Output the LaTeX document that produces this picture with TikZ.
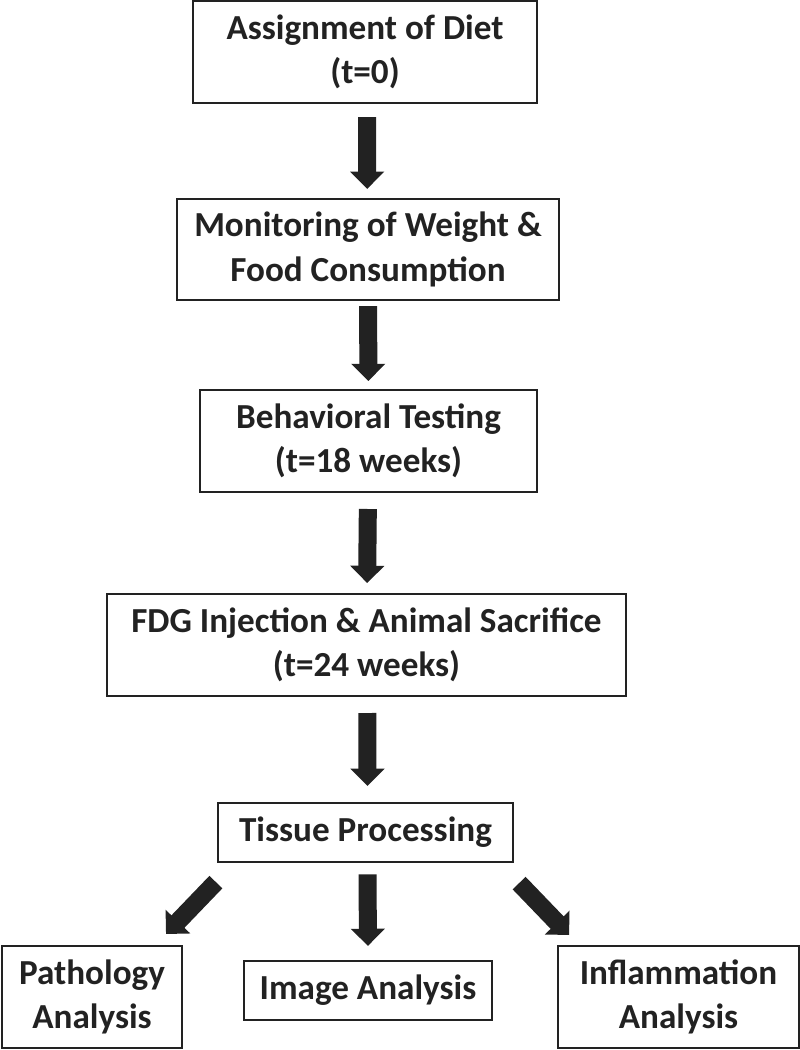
\documentclass[tikz,border=0pt]{standalone}
\usepackage{fontspec}
\setmainfont{Carlito}
\usepackage{xcolor}
\usepackage{tikz}
\usetikzlibrary{arrows.meta}
\definecolor{ink}{HTML}{222222}

\begin{document}
\begin{tikzpicture}[x=0.025cm, y=-0.025cm,
  stepbox/.style={draw=ink, line width=1.4pt, align=center, inner sep=0pt,
    text=ink, font=\bfseries\fontsize{25}{31.5}\selectfont},
  blockarrow/.style={draw=ink, line width=0.45cm,
    -{Triangle[width=0.83cm, length=0.43cm]}}]
\useasboundingbox (0,0) rectangle (800,1050);
\node[stepbox, minimum width=8.62cm, minimum height=2.55cm](diet) at (365,52) {Assignment of Diet\\(t=0)};
\node[stepbox, minimum width=9.55cm, minimum height=2.52cm](monitor) at (368,249.5) {Monitoring of Weight \&\\Food Consumption};
\node[stepbox, minimum width=8.42cm, minimum height=2.55cm](behav) at (368.5,441) {Behavioral Testing\\(t=18 weeks)};
\node[stepbox, minimum width=12.98cm, minimum height=2.55cm](fdg) at (366.5,645) {FDG Injection \& Animal Sacrifice\\(t=24 weeks)};
\node[stepbox, minimum width=7.38cm, minimum height=1.48cm](tissue) at (365.5,832.5) {Tissue Processing};
%
\node[stepbox, minimum width=4.5cm, minimum height=2.55cm](patho) at (92,997) {Pathology\\Analysis};
\node[stepbox, minimum width=6.2cm, minimum height=1.48cm](image) at (368,990.5) {Image Analysis};
\node[stepbox, minimum width=6.02cm, minimum height=2.55cm](inflam) at (678.5,997) {Inflammation\\Analysis};
%
\draw[blockarrow, shorten <=0.33cm, shorten >=0.23cm]([xshift=0.05cm]diet.south) -- ([xshift=-0.02cm]monitor.north);
\draw[blockarrow, shorten <=0.13cm, shorten >=0.2cm](monitor) -- (behav);
\draw[blockarrow, shorten <=0.4cm, shorten >=0.25cm](behav) -- (fdg);
\draw[blockarrow, shorten <=0.4cm, shorten >=0.4cm]([xshift=0.02cm]fdg.south) -- ([xshift=0.05cm]tissue.north);
%
\draw[blockarrow]([shift={(-1,19)}]tissue.south west) -- ([shift={(-17,-11)}]patho.north east);
\draw[blockarrow, shorten <=0.28cm, shorten >=0.35cm]([xshift=0.05cm]tissue.south) -- (image.north);
\draw[blockarrow]([shift={(5,20)}]tissue.south east) -- ([shift={(12,-10)}]inflam.north west);
\end{tikzpicture}
\end{document}
